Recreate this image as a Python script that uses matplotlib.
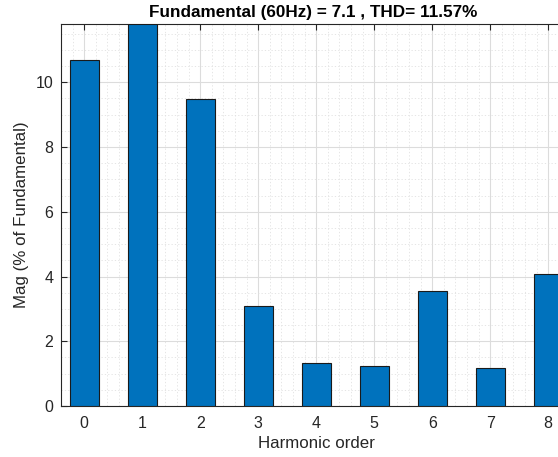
import numpy as np
import matplotlib.pyplot as plt
from matplotlib.ticker import MultipleLocator

harmonics = [0, 1, 2, 3, 4, 5, 6, 7, 8]
mag = [10.70, 11.80, 9.48, 3.08, 1.32, 1.25, 3.55, 1.16, 4.09]

plt.rcParams['font.family'] = ['Liberation Sans', 'DejaVu Sans']

fig = plt.figure(figsize=(5.58, 4.57), dpi=100)
# axes runs past the right edge of the figure, like the cropped original
px = 58.0
ax = fig.add_axes([61 / 558, 51 / 457, 8.8 * px / 558, 382 / 457])

ax.bar(harmonics, mag, width=0.5, color='#0072BD', edgecolor='#1a1a1a',
       linewidth=0.8, zorder=3)

ax.set_xlim(-0.4, 8.4)
ax.set_ylim(0, 11.8)
ax.set_xticks(harmonics)
ax.set_yticks([0, 2, 4, 6, 8, 10])
ax.xaxis.set_minor_locator(MultipleLocator(0.2))
ax.yaxis.set_minor_locator(MultipleLocator(0.5))

ax.grid(which='major', color='#dcdcdc', linewidth=0.8, zorder=0)
ax.grid(which='minor', color='#e0e0e0', linestyle=(0, (1.5, 2.5)), linewidth=0.6, zorder=0)
ax.set_axisbelow(True)

ax.tick_params(which='major', direction='in', length=4, width=0.8, top=True, right=True,
               labelsize=11.5, colors='#262626')
ax.tick_params(axis='y', pad=5.5)
ax.tick_params(axis='x', pad=7)
ax.tick_params(which='minor', length=0, top=True, right=True)
for s in ax.spines.values():
    s.set_color('#262626')
    s.set_linewidth(0.8)

ax.set_xlabel('Harmonic order', fontsize=12.2, color='#262626', labelpad=4)
ax.set_ylabel('Mag (% of Fundamental)', fontsize=12.2, color='#262626')
ax.yaxis.set_label_coords(-0.062, 0.5)
fig.text(0.562, 0.972, 'Fundamental (60Hz) = 7.1 , THD= 11.57%', ha='center', va='center',
         fontsize=12.3, fontweight='bold', color='black')

fig.savefig('out.png', dpi=100)
